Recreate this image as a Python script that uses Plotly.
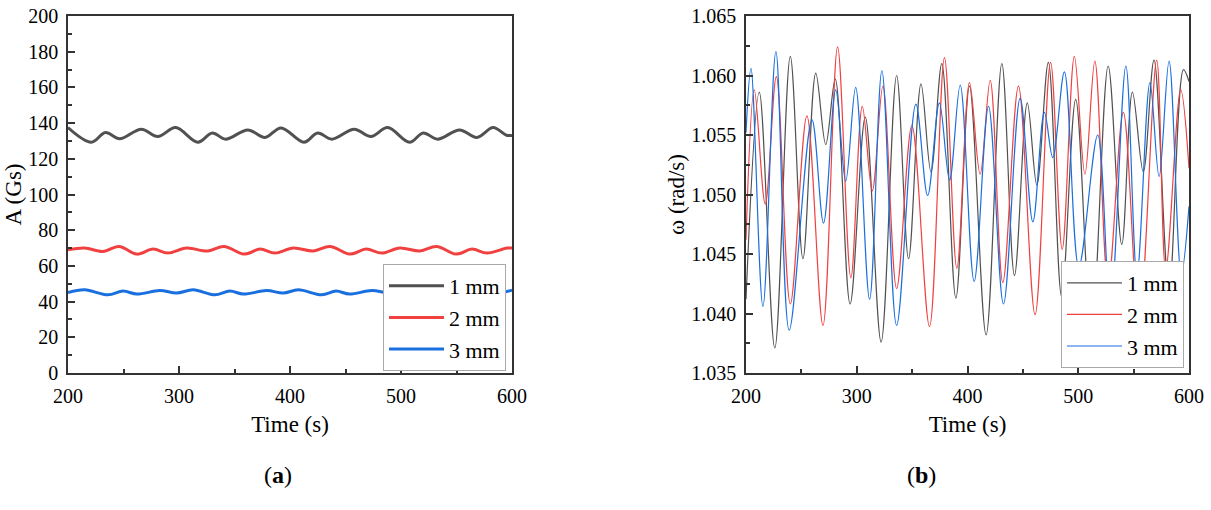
import plotly.graph_objects as go

# ---------------- Panel (a): amplitude A (Gs) ----------------
t_a1 = [200, 221, 233.7, 246.6, 266, 281, 297, 317, 330, 342, 362, 377.5, 392, 412.6, 425, 437.6,
        457.8, 473, 488, 507.7, 520, 533, 552.7, 568.4, 583, 595, 600]
a_1mm = [137.5, 129.3, 134.7, 131.2, 136.6, 132.5, 137.5, 129.3, 134.5, 131, 136.2, 132, 137.3, 129.3,
         134.5, 131, 136.6, 132.5, 137.5, 129.3, 134.5, 131, 136.2, 132, 137.5, 133.2, 133.1]

t_a2 = [200, 215, 231.6, 246, 262, 276.7, 290, 306.8, 326, 340.5, 358.8, 373, 386.5, 403, 421, 436,
        454, 468.6, 482.7, 499, 517, 532, 549.7, 564, 577.4, 595.5, 600]
a_2mm = [69, 70, 68.1, 70.9, 66.6, 69.4, 67.2, 70, 68.3, 70.9, 66.6, 69.4, 67.2, 70, 68.3, 70.9,
         66.6, 69.4, 67.2, 70, 68.3, 70.9, 66.6, 69.4, 67.2, 70, 70]

t_a3 = [200, 215, 236, 249.6, 262, 282.7, 297.8, 312.8, 332.3, 345.9, 357.9, 379, 394, 407.5, 428.6,
        441.5, 453.5, 473.7, 489.8, 503.5, 524.5, 537.5, 549.5, 570, 585.5, 600]
a_3mm = [45.1, 46.6, 43.8, 45.9, 44.2, 46.2, 44.8, 46.6, 43.8, 45.9, 44.2, 46.2, 44.8, 46.6, 43.8,
         45.9, 44.2, 46.2, 44.8, 46.6, 43.8, 45.9, 44.2, 46.2, 44.8, 46.4]

# ---------------- Panel (b): angular frequency ω (rad/s) ----------------
t_w1 = [200, 212, 226, 240, 251.4, 263, 272, 280.6, 294, 307.7, 322, 336, 346.8, 358, 367, 376.8,
        389.5, 401.8, 416.8, 431, 442.4, 454, 462.6, 473, 485, 497.7, 512, 527, 539.3, 548.9, 558.7,
        568.4, 582, 595, 600]
w_1mm = [1.0412, 1.0586, 1.0371, 1.0616, 1.0446, 1.0602, 1.0542, 1.0597, 1.0408, 1.0565, 1.0376,
         1.0600, 1.0446, 1.0593, 1.0519, 1.0610, 1.0413, 1.0591, 1.0382, 1.0610, 1.0432, 1.0577,
         1.0508, 1.0611, 1.0414, 1.0580, 1.0385, 1.0608, 1.0458, 1.0586, 1.0519, 1.0613, 1.0420,
         1.0605, 1.0595]

t_w2 = [200, 207.5, 217.4, 227.4, 240, 255, 269.5, 282.7, 294.7, 305, 314, 323.6, 336, 349.8, 365.7,
        379.2, 390.4, 401.8, 411.4, 420.5, 431.9, 446, 461, 475, 485.5, 496.5, 506, 515, 527, 540.7,
        555, 570.8, 579, 592.5, 600]
w_2mm = [1.0462, 1.0588, 1.0492, 1.0599, 1.0408, 1.0566, 1.0390, 1.0624, 1.0430, 1.0574, 1.0503,
         1.0591, 1.0421, 1.0558, 1.0389, 1.0615, 1.0438, 1.0594, 1.0517, 1.0596, 1.0426, 1.0591,
         1.0399, 1.0611, 1.0454, 1.0616, 1.0517, 1.0612, 1.0425, 1.0569, 1.0395, 1.0613, 1.0437,
         1.0588, 1.0522]

t_w3 = [200, 204.5, 215.3, 227, 239, 259.5, 270, 281, 290, 299, 311.6, 322.7, 336, 353.4, 364, 374.6,
        383.8, 393.4, 406, 419, 432.5, 447.5, 459, 469.4, 477, 487.5, 500.5, 517.6, 529, 543, 553,
        564.7, 573, 582, 593, 600]
w_3mm = [1.0552, 1.0606, 1.0406, 1.0620, 1.0386, 1.0563, 1.0476, 1.0588, 1.0511, 1.0590, 1.0412,
         1.0604, 1.0390, 1.0576, 1.0499, 1.0577, 1.0512, 1.0592, 1.0427, 1.0574, 1.0408, 1.0581,
         1.0477, 1.0569, 1.0531, 1.0603, 1.0439, 1.0550, 1.0405, 1.0608, 1.0433, 1.0594, 1.0515,
         1.0612, 1.0433, 1.0490]

names = ["1 mm", "2 mm", "3 mm"]
colors = ["#515151", "#F14040", "#1A6FDF"]

W, H = 1211, 510
FONT = "Liberation Serif"

fig = go.Figure()
for t, y, n, c in zip([t_a1, t_a2, t_a3], [a_1mm, a_2mm, a_3mm], names, colors):
    fig.add_trace(go.Scatter(x=t, y=y, name=n, mode="lines",
                             line=dict(color=c, width=3, shape="spline", smoothing=1.0),
                             xaxis="x", yaxis="y", legend="legend"))
for t, y, n, c in zip([t_w1, t_w2, t_w3], [w_1mm, w_2mm, w_3mm], names, colors):
    fig.add_trace(go.Scatter(x=t, y=y, name=n, mode="lines",
                             line=dict(color=c, width=1.2, shape="spline", smoothing=1.0),
                             xaxis="x2", yaxis="y2", legend="legend2"))

ax = dict(showline=True, linecolor="#333333", linewidth=1.5, mirror=True,
          ticks="inside", ticklen=7, tickwidth=1.5, tickcolor="#333333",
          showgrid=False, zeroline=False, automargin=False,
          tickfont=dict(family=FONT, size=20, color="black"),
          title_font=dict(family=FONT, size=23, color="black"))

ytop = 1 - 16 / H
ybot = 1 - 373 / H

minor_x = dict(ticks="inside", ticklen=4, dtick=50, tickcolor="#333333", tickwidth=1.5)

fig.update_layout(
    width=W, height=H,
    margin=dict(l=0, r=0, t=0, b=0, autoexpand=False),
    paper_bgcolor="white", plot_bgcolor="white",
    showlegend=True,
    xaxis=dict(ax, domain=[68 / W, 512 / W], range=[200, 600], dtick=100, anchor="y",
               minor=minor_x, ticklabelstandoff=4,
               title=dict(text="Time (s)", standoff=10)),
    yaxis=dict(ax, domain=[ybot, ytop], range=[0, 200], dtick=20, anchor="x",
               minor=dict(ticks="inside", ticklen=4, dtick=10, tickcolor="#333333", tickwidth=1.5),
               ticklabelstandoff=4,
               title=dict(text="A (Gs)", standoff=0)),
    xaxis2=dict(ax, domain=[746 / W, 1189 / W], range=[200, 600], dtick=100, anchor="y2",
                minor=minor_x, ticklabelstandoff=4,
                title=dict(text="Time (s)", standoff=10)),
    yaxis2=dict(ax, domain=[ybot, ytop], range=[1.035, 1.065], dtick=0.005, tickformat=".3f",
                anchor="x2",
                minor=dict(ticks="inside", ticklen=4, dtick=0.0025, tickcolor="#333333", tickwidth=1.5),
                ticklabelstandoff=4,
                title=dict(text="ω (rad/s)", standoff=0)),
    legend=dict(x=506 / W, y=1 - 371 / H, xanchor="right", yanchor="bottom",
                bgcolor="white", bordercolor="#aaaaaa", borderwidth=1,
                font=dict(family=FONT, size=22, color="black"),
                itemwidth=55, tracegroupgap=0),
    legend2=dict(x=1184 / W, y=1 - 368 / H, xanchor="right", yanchor="bottom",
                 bgcolor="white", bordercolor="#aaaaaa", borderwidth=1,
                 font=dict(family=FONT, size=22, color="black"),
                 itemwidth=55, tracegroupgap=0),
    annotations=[
        dict(text="(<b>a</b>)", x=262 / W, y=1 - 490 / H, xref="paper", yref="paper",
             showarrow=False, font=dict(family=FONT, size=24, color="black")),
        dict(text="(<b>b</b>)", x=938 / W, y=1 - 490 / H, xref="paper", yref="paper",
             showarrow=False, font=dict(family=FONT, size=24, color="black")),
    ],
)

fig.write_html("out.html")
